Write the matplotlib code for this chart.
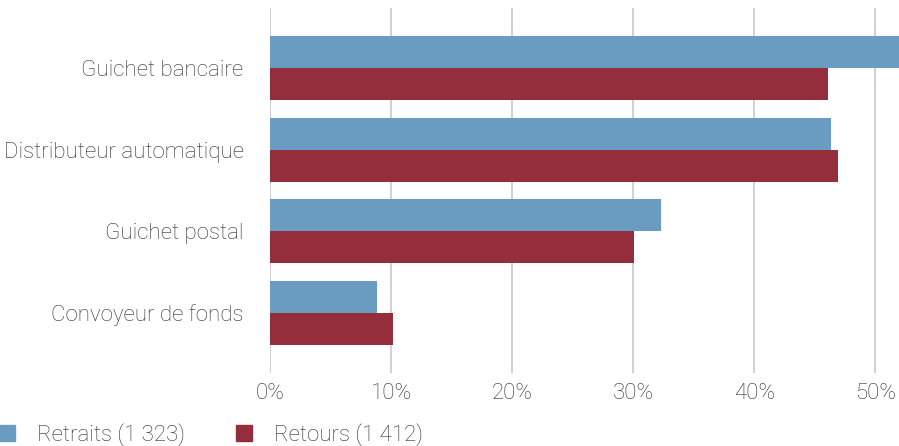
import matplotlib.pyplot as plt
import numpy as np
from matplotlib.patches import Patch

# data (% of respondents)
categories = ['Guichet bancaire', 'Distributeur automatique', 'Guichet postal', 'Convoyeur de fonds']
retraits = [52.5, 46.3, 32.3, 8.8]
retours = [46.1, 46.9, 30.1, 10.2]
series_labels = ['Retraits (1 323)', 'Retours (1 412)']
xticks = [0, 10, 20, 30, 40, 50]

blue = '#6a9bc0'
red = '#942d3c'
grey = '#2e2e2e'

plt.rcParams['font.family'] = ['Roboto', 'DejaVu Sans']
plt.rcParams['font.weight'] = 'light'

fig = plt.figure(figsize=(8.99, 4.46), dpi=100)
ax = fig.add_axes([270 / 899, 1 - 373 / 446, 629 / 899, 365 / 446])

y = np.arange(len(categories))
h = 0.39
ax.barh(y - h / 2, retraits, height=h, color=blue, zorder=2)
ax.barh(y + h / 2, retours, height=h, color=red, zorder=2)

ax.set_xlim(0, 51.95)
ax.set_ylim(3.735, -0.735)
ax.set_xticks(xticks)
ax.set_xticklabels([f'{t}%' for t in xticks])
ax.set_yticks(y)
ax.set_yticklabels(categories)
ax.tick_params(axis='both', length=0, labelsize=16, colors=grey)
ax.tick_params(axis='y', pad=19)
ax.tick_params(axis='x', pad=7)
ax.grid(axis='x', color='#c8c8c8', linewidth=1.2, zorder=0)
for s in ax.spines.values():
    s.set_visible(False)

handles = [Patch(color=blue), Patch(color=red)]
fig.legend(handles, series_labels, loc='lower left', bbox_to_anchor=(-0.023, -0.045),
           ncol=2, frameon=False, fontsize=16, labelcolor=grey,
           handlelength=0.7, handleheight=0.7, handletextpad=1.0, columnspacing=2.3)

fig.savefig('out.png', dpi=100)
